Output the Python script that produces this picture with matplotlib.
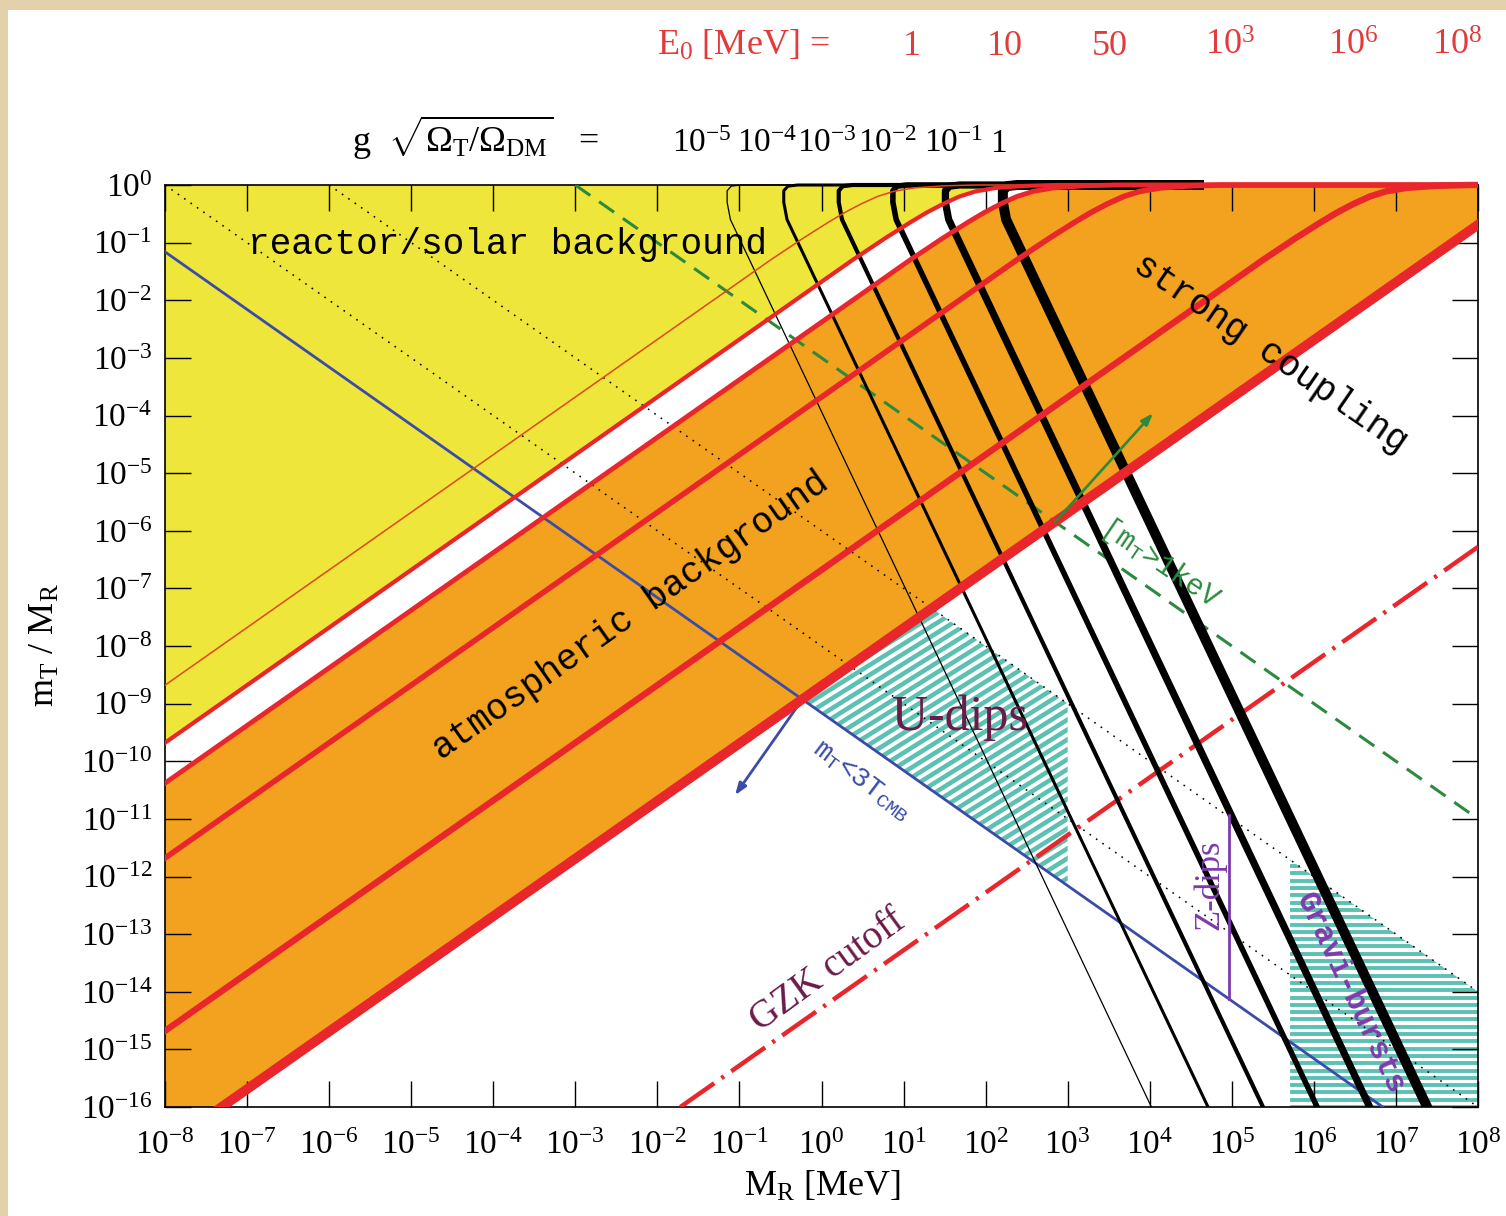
import numpy as np
import matplotlib.pyplot as plt
from matplotlib.patches import Polygon, Rectangle
from matplotlib.collections import LineCollection

plt.rcParams['font.family'] = ['Liberation Serif', 'DejaVu Serif']
plt.rcParams['mathtext.fontset'] = 'custom'
plt.rcParams['mathtext.rm'] = 'Liberation Serif'
plt.rcParams['mathtext.it'] = 'Liberation Serif:italic'
plt.rcParams['mathtext.tt'] = 'Liberation Mono'
plt.rcParams['axes.unicode_minus'] = False

# ---- data (log10 M_R [MeV], log10 m_T/M_R) ----
E0_labels = ['1', '10', '50', '$10^3$', '$10^6$', '$10^8$']
g_labels = ['$10^{-5}$', '$10^{-4}$', '$10^{-3}$', '$10^{-2}$', '$10^{-1}$', '1']

bend_y = [-1.3, -0.92, -0.65, -0.48, -0.33, -0.2, -0.11, -0.05, -0.015, 0]
red_E0_1 = [(-8, -8.68)] + list(zip([-0.62, -0.22, 0.08, 0.28, 0.48, 0.68, 0.88, 1.13, 1.48, 1.88], bend_y)) + [(8, 0)]
red_E0_10 = [(-8, -9.68)] + list(zip([0.38, 0.78, 1.08, 1.28, 1.48, 1.68, 1.88, 2.13, 2.48, 2.88], bend_y)) + [(8, 0)]
red_E0_50 = [(-8, -10.38)] + list(zip([1.08, 1.48, 1.78, 1.98, 2.18, 2.38, 2.58, 2.83, 3.18, 3.58], bend_y)) + [(8, 0)]
red_E0_1e3 = [(-8, -11.68)] + list(zip([2.38, 2.78, 3.08, 3.28, 3.48, 3.68, 3.88, 4.13, 4.48, 4.88], bend_y)) + [(8, 0)]
red_E0_1e6 = [(-8, -14.68)] + list(zip([5.38, 5.78, 6.08, 6.28, 6.48, 6.68, 6.88, 7.13, 7.48, 7.88], bend_y)) + [(8, 0)]
red_E0_1e8 = [(-7.5, -16.19), (-7.31, -16), (8, -0.69)]
red_curves = [red_E0_1, red_E0_10, red_E0_50, red_E0_1e3, red_E0_1e6, red_E0_1e8]

black_g_1e5 = [(4.12, -16.3), (4.02, -16), (-1.11, -0.6), (-1.15, -0.3), (-1.15, -0.1), (-1.10, -0.02), (-0.98, 0), (4.6, 0)]
black_g_1e4 = [(4.81, -16.3), (4.71, -16), (-0.42, -0.6), (-0.46, -0.3), (-0.46, -0.1), (-0.41, -0.02), (-0.29, 0), (4.6, 0)]
black_g_1e3 = [(5.48, -16.3), (5.38, -16), (0.25, -0.6), (0.21, -0.3), (0.21, -0.1), (0.26, -0.02), (0.38, 0), (4.6, 0)]
black_g_1e2 = [(6.14, -16.3), (6.04, -16), (0.91, -0.6), (0.87, -0.3), (0.87, -0.1), (0.92, -0.02), (1.04, 0), (4.6, 0)]
black_g_1e1 = [(6.78, -16.3), (6.68, -16), (1.55, -0.6), (1.51, -0.3), (1.51, -0.1), (1.56, -0.02), (1.68, 0), (4.6, 0)]
black_g_1 = [(7.48, -16.3), (7.38, -16), (2.25, -0.6), (2.21, -0.3), (2.21, -0.1), (2.26, -0.02), (2.38, 0), (4.6, 0)]
black_curves = [black_g_1e5, black_g_1e4, black_g_1e3, black_g_1e2, black_g_1e1, black_g_1]

dotted_1 = [(-8, 0), (8, -16)]
dotted_2 = [(-6, 0), (8, -14)]
green_dashed = [(-3, 0), (8, -11)]
blue_cmb = [(-8, -1.16), (6.84, -16)]
gzk_line = [(-1.72, -16), (8, -6.28)]
zdips_line = [(4.96, -14.12), (4.96, -10.94)]
blue_arrow = [(-0.235, -8.93), (-1.054, -10.59)]
green_arrow = [(2.845, -5.85), (4.04, -3.96)]

udips_region = [(-0.235, -8.93), (1.345, -7.345), (3.0, -9.0), (3.0, -12.16)]
gravi_region = [(5.71, -11.71), (8, -14), (8, -16), (5.71, -16)]

# ---- styles ----
red = '#e8262b'
red_widths = [1.1, 3.0, 3.5, 4.0, 4.6, 7.0]
red_colors = ['#e2461c', red, red, red, red, red]
black_widths = [0.9, 2.2, 3.0, 4.0, 5.2, 7.2]
yellow = '#eee63a'
orange = '#f2a21e'
teal = '#5cc1b3'
blue = '#3b4ca8'
green = '#2b8a3e'
purple = '#7d3bab'
maroon = '#6b1b4a'


def to_xy(pts):
    a = np.array(pts, dtype=float)
    return 10 ** a[:, 0], 10 ** a[:, 1]


W, H = 1506, 1216
fig = plt.figure(figsize=(W / 100, H / 100), dpi=100)
fig.patch.set_facecolor('#e4d1ab')
fig.add_artist(Rectangle((8 / W, 0), 1, 1 - 10 / H, transform=fig.transFigure,
                         facecolor='white', edgecolor='none', zorder=0))

ax_l, ax_b, ax_w, ax_h = 165, 1107, 1313, 922
ax = fig.add_axes([ax_l / W, 1 - ax_b / H, ax_w / W, ax_h / H])
ax.set_xscale('log')
ax.set_yscale('log')
ax.set_xlim(1e-8, 1e8)
ax.set_ylim(1e-16, 1)

# clip box slightly taller than the axes so lines along the top edge show fully
top_clip = Rectangle((0, 0), 1, 1.03, transform=ax.transAxes, facecolor='none', edgecolor='none')

# background regions
yx, yy = to_xy(red_E0_10 + [(-8, 0)])
ax.add_patch(Polygon(np.column_stack([yx, yy]), closed=True, facecolor=yellow, edgecolor='none', zorder=1))
ox, oy = to_xy(red_E0_50 + red_E0_1e8[::-1] + [(-8, -16.19)])
ax.add_patch(Polygon(np.column_stack([ox, oy]), closed=True, facecolor=orange, edgecolor='none', zorder=1))


def striped(region, angle, period, width):
    px, py = to_xy(region)
    clip = Polygon(np.column_stack([px, py]), closed=True, facecolor='none', edgecolor='none')
    ax.add_patch(clip)
    t = np.tan(np.radians(angle))
    step = period / np.cos(np.radians(angle))
    offs = np.arange(-ax_w * abs(t) - step, ax_h + ax_w * abs(t) + step, step)
    segs = [[(0, c / ax_h), (1, (c + t * ax_w) / ax_h)] for c in offs]
    lc = LineCollection(segs, colors=teal, linewidths=width * 0.72,
                        transform=ax.transAxes, zorder=1.5)
    ax.add_collection(lc, autolim=False)
    lc.set_clip_path(clip)


striped(udips_region, 32, 8.4, 4.6)
striped(gravi_region, 0, 7.3, 3.9)

# dotted lines
for d in [dotted_1, dotted_2]:
    ax.plot(*to_xy(d), color='black', lw=1.1, linestyle=(0, (1.1, 4)), zorder=2)

# blue m_T < 3 T_CMB line and arrow
ax.plot(*to_xy(blue_cmb), color=blue, lw=2.0, zorder=3)
bx, by = to_xy(blue_arrow)
ax.annotate('', xy=(bx[1], by[1]), xytext=(bx[0], by[0]),
            arrowprops=dict(arrowstyle='-|>,head_length=0.7,head_width=0.25', color=blue, lw=2.0,
                            shrinkA=0, shrinkB=0), zorder=3)

# green m_T > 1 keV line
ax.plot(*to_xy(green_dashed), color=green, lw=2.2, linestyle=(0, (6, 3.5)), zorder=3)

# GZK cutoff
ax.plot(*to_xy(gzk_line), color=red, lw=3.2, linestyle=(0, (9.3, 2.0, 0.7, 2.0)), zorder=3)

# black lifetime curves
for pts, lw in zip(black_curves, black_widths):
    ln, = ax.plot(*to_xy(pts), color='black', lw=lw, solid_joinstyle='round', zorder=4)
    ln.set_clip_path(top_clip)

# red E0 curves
for pts, lw, c in zip(red_curves, red_widths, red_colors):
    ln, = ax.plot(*to_xy(pts), color=c, lw=lw, solid_joinstyle='round', zorder=5)
    ln.set_clip_path(top_clip)

# Z-dips
ax.plot(*to_xy(zdips_line), color=purple, lw=2.0, zorder=5)

# green arrow
gx, gy = to_xy(green_arrow)
ax.annotate('', xy=(gx[1], gy[1]), xytext=(gx[0], gy[0]),
            arrowprops=dict(arrowstyle='-|>,head_length=0.7,head_width=0.25', color=green, lw=1.9,
                            shrinkA=0, shrinkB=0), zorder=6)

# labels inside the plot
mono = 'Liberation Mono'
ax.text(10 ** -6.99, 10 ** -1.04, 'reactor/solar background', family=mono, fontsize=26,
        ha='left', va='center', zorder=7)
ax.text(10 ** -2.33, 10 ** -7.47, 'atmospheric background', family=mono, fontsize=26,
        rotation=35.1, rotation_mode='anchor', ha='center', va='center', zorder=7)
ax.text(10 ** 5.47, 10 ** -2.93, 'strong coupling', family=mono, fontsize=26,
        rotation=-34.5, rotation_mode='anchor', ha='center', va='center', zorder=7)
ax.text(10 ** 4.12, 10 ** -6.56, r'[m$_\mathtt{T}$>1keV', family=mono, fontsize=21, color=green,
        rotation=-34, rotation_mode='anchor', ha='center', va='center', zorder=7)
ax.text(10 ** 0.49, 10 ** -10.33, r'm$_\mathtt{T}$<3T$_\mathtt{CMB}$', family=mono, fontsize=20,
        color=blue, rotation=-37, rotation_mode='anchor', ha='center', va='center', zorder=7)
ax.text(10 ** 1.69, 10 ** -9.25, 'U-dips', fontsize=36, color=maroon,
        ha='center', va='center', zorder=7)
ax.text(10 ** 0.08, 10 ** -13.63, 'GZK cutoff', fontsize=28, color=maroon,
        rotation=36, rotation_mode='anchor', ha='center', va='center', zorder=7)
ax.text(10 ** 4.73, 10 ** -12.15, 'Z-dips', fontsize=25, color=purple,
        rotation=90, rotation_mode='anchor', ha='center', va='center', zorder=7)
ax.text(10 ** 6.44, 10 ** -14.03, 'Gravi-bursts', family=mono, fontsize=22, color=purple,
        fontweight='bold', rotation=-64.6, rotation_mode='anchor', ha='center', va='center', zorder=7)

# axes, ticks
ax.set_xticks([10.0 ** k for k in range(-8, 9)])
ax.set_yticks([10.0 ** k for k in range(-16, 1)])
ax.minorticks_off()
ax.tick_params(direction='in', length=19, width=1.0, top=True, right=True,
               labelsize=24, pad=9)
ax.tick_params(axis='x', pad=17)
for s in ax.spines.values():
    s.set_linewidth(1.2)

fig.text(822 / W, 1 - 1187 / H, r'M$_\mathrm{R}$ [MeV]', fontsize=26, ha='center', va='center')
fig.text(45 / W, 1 - 645 / H, r'm$_\mathrm{T}$ / M$_\mathrm{R}$', fontsize=26, rotation=90,
         ha='center', va='center')

# top legend rows
red_txt = '#e33b3b'
fig.text(657 / W, 1 - 55 / H, r'E$_0$ [MeV] =', fontsize=26, color=red_txt, ha='left', va='baseline')
for xc, lab in zip([912, 1005, 1110, 1230, 1353, 1457], E0_labels):
    fig.text(xc / W, 1 - 55 / H, lab, fontsize=26, color=red_txt, ha='center', va='baseline')

fig.text(352 / W, 1 - 152 / H, r'g  $\sqrt{\Omega_\mathrm{T}/\Omega_\mathrm{DM}}$   =', fontsize=26,
         ha='left', va='baseline')
for xl, lab in zip([672, 737, 797, 858, 924, 990], g_labels):
    fig.text(xl / W, 1 - 152 / H, lab, fontsize=24, ha='left', va='baseline')

fig.savefig('out.png', dpi=100, facecolor=fig.get_facecolor())
